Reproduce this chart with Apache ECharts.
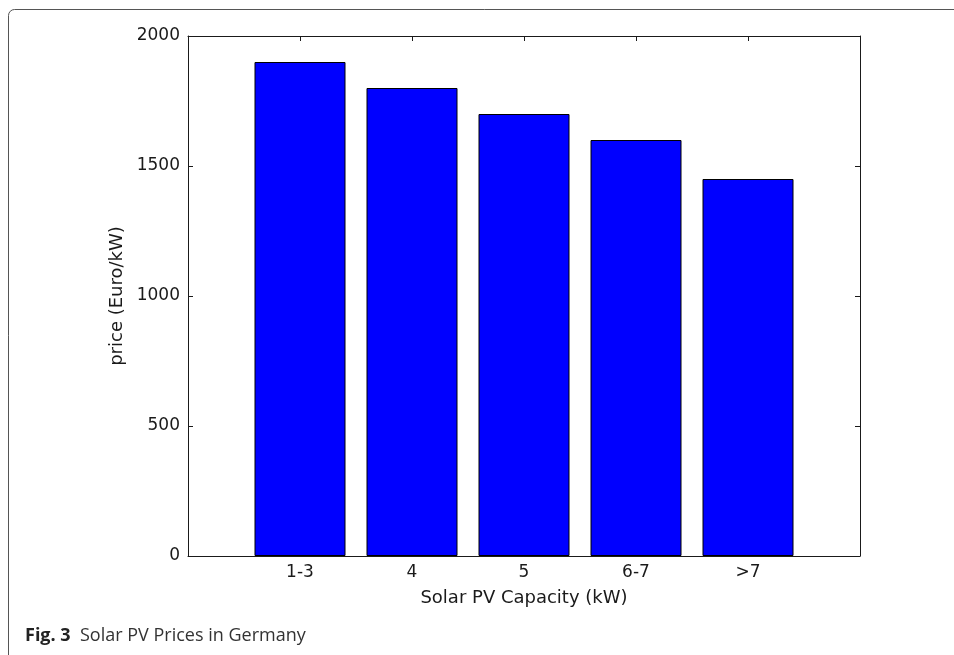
<!DOCTYPE html>
<html>
<head>
<meta charset="utf-8">
<script src="https://cdn.jsdelivr.net/npm/echarts@6/dist/echarts.min.js"></script>
<style>
  html, body { margin: 0; padding: 0; background: #fff; }
  #chart { width: 954px; height: 655px; }
</style>
</head>
<body>
<div id="chart"></div>
<script>
// Solar PV system prices by installed capacity
const categories = ['1-3', '4', '5', '6-7', '>7'];
const prices = [1900, 1800, 1700, 1600, 1450];
const yTicks = [0, 500, 1000, 1500, 2000];

const xTitle = 'Solar PV Capacity (kW)';
const yTitle = 'price (Euro/kW)';

const chart = echarts.init(document.getElementById('chart'), null, { renderer: 'canvas' });

// bars sit on integer positions 1..n, the axis spans 0..n+1
const barData = prices.map((v, i) => [i + 1, v]);
const tickFont = "'DejaVu Sans'";
const fs = 17;
const titleFs = 18;
const ink = '#1a1a1a';

const xCommon = {
  type: 'value',
  min: 0,
  max: categories.length + 1,
  interval: 1,
  splitLine: { show: false },
  axisLine: { show: true, onZero: false, lineStyle: { color: ink, width: 1 } },
  axisTick: {
    show: true, inside: true, length: 5,
    lineStyle: { color: ink, width: 1 }
  }
};
const yCommon = {
  type: 'value',
  min: yTicks[0],
  max: yTicks[yTicks.length - 1],
  interval: yTicks[1] - yTicks[0],
  splitLine: { show: false },
  axisLine: { show: true, onZero: false, lineStyle: { color: ink, width: 1 } },
  axisTick: {
    show: true, inside: true, length: 5,
    lineStyle: { color: ink, width: 1 }
  }
};

chart.setOption({
  animation: false,
  backgroundColor: '#ffffff',
  grid: { left: 188, top: 36, right: 94, bottom: 99, containLabel: false },
  xAxis: [
    Object.assign({}, xCommon, {
      position: 'bottom',
      name: xTitle,
      nameLocation: 'middle',
      nameGap: 33,
      nameTextStyle: { fontFamily: tickFont, fontSize: titleFs, color: ink },
      axisLabel: {
        margin: 8,
        fontFamily: tickFont, fontSize: fs, color: ink,
        formatter: v => categories[v - 1] || ''
      }
    }),
    Object.assign({}, xCommon, {
      position: 'top',
      axisLabel: { show: false }
    })
  ],
  yAxis: [
    Object.assign({}, yCommon, {
      position: 'left',
      name: yTitle,
      nameLocation: 'middle',
      nameGap: 56,
      nameRotate: 90,
      nameTextStyle: { fontFamily: tickFont, fontSize: titleFs, color: ink },
      axisLabel: {
        margin: 8,
        fontFamily: tickFont, fontSize: fs, color: ink,
        formatter: v => String(v)
      }
    }),
    Object.assign({}, yCommon, {
      position: 'right',
      axisLabel: { show: false }
    })
  ],
  series: [{
    type: 'bar',
    xAxisIndex: 0,
    yAxisIndex: 0,
    data: barData,
    barWidth: 91,
    itemStyle: { color: '#0000ff', borderColor: '#000000', borderWidth: 1 },
    silent: true
  }],
  graphic: [
    {
      // figure frame
      type: 'rect',
      shape: { x: 8.5, y: 9.5, width: 1000, height: 700, r: 6 },
      style: { fill: 'none', stroke: '#555555', lineWidth: 1 },
      silent: true
    },
    {
      type: 'text',
      left: 25,
      top: 627,
      style: {
        text: '{b|Fig. 3}  Solar PV Prices in Germany',
        fontFamily: 'Open Sans',
        fontSize: 18,
        fill: '#333333',
        rich: {
          b: { fontFamily: 'Open Sans', fontWeight: 'bold', fontSize: 18, fill: '#222222' }
        }
      }
    }
  ]
});
</script>
</body>
</html>
